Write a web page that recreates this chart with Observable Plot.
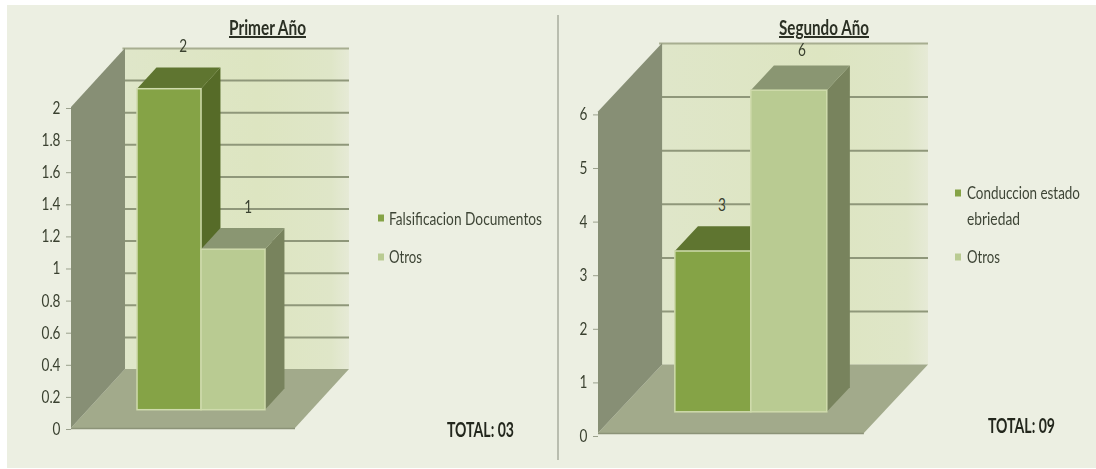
<!DOCTYPE html>
<html><head><meta charset="utf-8">
<script src="https://cdn.jsdelivr.net/npm/d3@7"></script>
<script src="https://cdn.jsdelivr.net/npm/@observablehq/plot@0.6"></script>
<style>
html,body{margin:0;padding:0;background:#fff;}
#page{position:relative;width:1096px;height:469px;overflow:hidden;background:#fff;font-family:Lato,"Liberation Sans",sans-serif;color:#333b2c;}
#panel{position:absolute;left:7px;top:5px;width:1089px;height:463px;background:#ecefe2;}
#divider{position:absolute;left:557px;top:15px;width:2px;height:445px;background:#b9bdaf;}
.plot{position:absolute;top:0;}
.plot svg{display:block;background:transparent;filter:blur(.55px);}
.t{position:absolute;white-space:nowrap;transform-origin:0 50%;filter:blur(.4px);line-height:1;}
.title{font-weight:bold;font-size:20px;text-decoration:underline;color:#2b3024;}
.leg{font-size:16.5px;color:#3e4536;}
.total{font-weight:bold;font-size:20px;color:#23271d;}
.sw{position:absolute;width:6px;height:7px;transform:translateY(-50%);filter:blur(.4px);}
</style></head>
<body><div id="page"><div id="panel"></div><div id="divider"></div></div>
<script>
const titlesText = ["Primer Año", "Segundo Año"];
const totalsText = ["TOTAL: 03", "TOTAL: 09"];
const categoriesA = ["Falsificacion Documentos", "Otros"];
const valuesA = [2, 1];
const ticksA = [0, 0.2, 0.4, 0.6, 0.8, 1, 1.2, 1.4, 1.6, 1.8, 2];
const categoriesB = ["Conduccion estado ebriedad", "Otros"];
const valuesB = [3, 6];
const ticksB = [0, 1, 2, 3, 4, 5, 6];

const C = {wall:"#878f75", floor:"#a2aa8b", back:"#dee5c4", grid:"#8f977a", edge:"#cfdbac",
  front:["#85a346","#b9cb92"], side:["#566b28","#78835d"], top:["#5f7530","#8a9672"]};
const FLOOR = 3.5, DX = 0.844, Z0 = 0.31, Z1 = 0.67;

function chart({left,width,margins,values,ticks,maxV,depthY,labelDx,labelDy,tickDy,start,gradId}){
  const px = (x,z) => x + z*DX, py = (v,z) => v + z*depthY;
  const para = (a,b) => [a,b];
  const marks = [];
  marks.push(Plot.rect([0],{x1:px(0,1),x2:px(FLOOR,1),y1:py(0,1),y2:py(maxV,1),fill:`url(#${gradId})`}));
  marks.push(Plot.ruleY(ticks.filter(t=>t>0),{y:t=>py(t,1),x1:px(0,1)-0.04,x2:px(FLOOR,1),stroke:(t)=>t===maxV?"#a7ae90":C.grid,strokeWidth:2}));
  marks.push(Plot.areaX(para({y:py(0,0),x1:px(0,0),x2:px(FLOOR,0)},{y:py(0,1),x1:px(0,1),x2:px(FLOOR,1)}),{y:"y",x1:"x1",x2:"x2",fill:C.floor}));
  marks.push(Plot.ruleY([0],{y:py(0,0),x1:px(0,0),x2:px(FLOOR,0),stroke:"#8c9378",strokeWidth:1.5}));
  marks.push(Plot.areaY(para({x:px(0,0),y1:py(0,0),y2:py(maxV,0)},{x:px(0,1),y1:py(0,1),y2:py(maxV,1)}),{x:"x",y1:"y1",y2:"y2",fill:C.wall}));
  values.forEach((v,i)=>{
    const a = start+i, b = start+i+1;
    marks.push(Plot.areaY(para({x:px(b,Z0),y1:py(0,Z0),y2:py(v,Z0)},{x:px(b,Z1),y1:py(0,Z1),y2:py(v,Z1)}),{x:"x",y1:"y1",y2:"y2",fill:C.side[i]}));
    marks.push(Plot.areaX(para({y:py(v,Z0),x1:px(a,Z0),x2:px(b,Z0)},{y:py(v,Z1),x1:px(a,Z1),x2:px(b,Z1)}),{y:"y",x1:"x1",x2:"x2",fill:C.top[i]}));
    marks.push(Plot.rect([v],{x1:px(a,Z0),x2:px(b,Z0),y1:py(0,Z0),y2:py(v,Z0),fill:C.front[i],stroke:C.edge,strokeWidth:1.5}));
    marks.push(Plot.text([v],{x:px((a+b)/2,(Z0+Z1)/2),y:py(v,Z1),text:d=>String(d),dy:labelDy[i],dx:labelDx[i],fontSize:17,fill:"#3a4130"}));
  });
  marks.push(Plot.axisY(ticks,{anchor:"left",tickSize:5,tickPadding:6,fontSize:17,dy:tickDy,stroke:"#9aa08c",fill:"#3a4130",tickFormat:d=>String(d),label:null}));
  const svg = Plot.plot({width,height:469,...margins,style:{background:"transparent",fontFamily:'Lato,"Liberation Sans",sans-serif'},
    x:{domain:[0,FLOOR+DX],axis:null},
    y:{domain:[0,maxV+depthY],axis:null},
    marks});
  const defs = d3.select(svg).insert("defs",":first-child");
  const g = defs.append("linearGradient").attr("id",gradId);
  [[0,"#dfe6c9"],[.6,"#dde5c1"],[.92,"#dfe6c8"],[1,"#e6ead6"]].forEach(([o,c])=>g.append("stop").attr("offset",o).attr("stop-color",c));
  const wrap = document.createElement("div");
  wrap.className="plot"; wrap.style.left=left+"px"; wrap.appendChild(svg);
  document.getElementById("page").appendChild(wrap);
  // narrow the digits to the reference's condensed look, keeping them as real text
  svg.querySelectorAll("text").forEach(t=>{
    const n = t.getComputedTextLength();
    if (n>0){ t.setAttribute("textLength",n*0.8); t.setAttribute("lengthAdjust","spacingAndGlyphs"); }
  });
}
chart({left:0,width:556,margins:{marginLeft:71,marginRight:207,marginTop:48,marginBottom:41},
  values:valuesA,ticks:ticksA,maxV:2,depthY:0.3676,labelDx:[4,5],labelDy:[-21,-21],tickDy:1,start:0.77,gradId:"backA"});
chart({left:556,width:540,margins:{marginLeft:42,marginRight:168,marginTop:43,marginBottom:36},
  values:valuesB,ticks:ticksB,maxV:6,depthY:1.276,labelDx:[-3,1],labelDy:[-21,-16],tickDy:3,start:0.75,gradId:"backB"});

// place a text with its left edge at x, fitted horizontally to the width it spans in the reference
function text(cls,s,x,y,w){
  const d=document.createElement("div");d.className="t "+cls;d.textContent=s;
  d.style.left=x+"px";d.style.top=y+"px";
  document.getElementById("page").appendChild(d);
  const k=w/d.getBoundingClientRect().width;
  d.style.transform=`translateY(-50%) scaleX(${k})`;
}
function swatch(c,x,y){const d=document.createElement("div");d.className="sw";d.style.background=c;d.style.left=x+"px";d.style.top=y+"px";document.getElementById("page").appendChild(d);}
text("title",titlesText[0],229,27,77);
text("title",titlesText[1],779,27,90);
swatch(C.front[0],378,218); text("leg",categoriesA[0],389,219,153);
swatch(C.front[1],378,257); text("leg",categoriesA[1],389,257,33);
swatch(C.front[0],955,193); text("leg","Conduccion estado",967,193,113); text("leg","ebriedad",967,219,53);
swatch(C.front[1],955,257); text("leg",categoriesB[1],967,257,33);
text("total",totalsText[0],447,429,67);
text("total",totalsText[1],988,425,67);
</script></body></html>
